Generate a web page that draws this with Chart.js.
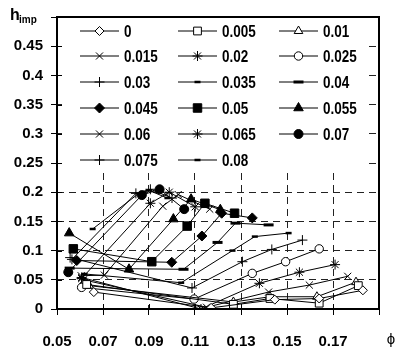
<!DOCTYPE html>
<html>
<head>
<meta charset="utf-8">
<script src="https://cdn.jsdelivr.net/npm/chart.js@4.4.1/dist/chart.umd.min.js"></script>
<style>
html,body{margin:0;padding:0;background:#fff;}
#wrap{position:relative;width:397px;height:349px;}
canvas{display:block;}
</style>
</head>
<body>
<div id="wrap"><canvas id="c" width="397" height="349"></canvas></div>
<script>
// Series labels (parameter values)
const seriesLabels = ['0','0.005','0.01','0.015','0.02','0.025','0.03','0.035','0.04','0.045','0.05','0.055','0.06','0.065','0.07','0.075','0.08'];

// Data: [phi, h_imp]
const s000 = [[0.066,0.029],[0.117,0.002],[0.1447,0.016],[0.164,0.018],[0.183,0.032]];
const s005 = [[0.0629,0.042],[0.1267,0.008],[0.1426,0.018],[0.164,0.010],[0.181,0.040]];
const s010 = [[0.064,0.040],[0.1267,0.012],[0.1426,0.021],[0.163,0.021],[0.180,0.046]];
const s015 = [[0.0615,0.050],[0.115,0.003],[0.142,0.029],[0.1597,0.041],[0.1764,0.056]];
const s020 = [[0.0607,0.054],[0.1126,0.000],[0.138,0.044],[0.1554,0.063],[0.1709,0.076]];
const s025 = [[0.0607,0.037],[0.1096,0.017],[0.1349,0.061],[0.1494,0.081],[0.164,0.103]];
const s030 = [[0.0557,0.088],[0.1087,0.036],[0.1306,0.081],[0.1434,0.102],[0.1567,0.118]];
const s035 = [[0.062,0.060],[0.104,0.045],[0.1263,0.100],[0.136,0.124],[0.1507,0.130]];
const s040 = [[0.0555,0.070],[0.105,0.068],[0.1198,0.114],[0.1276,0.147],[0.142,0.144]];
const s045 = [[0.0586,0.083],[0.0999,0.080],[0.113,0.125],[0.1216,0.164],[0.1349,0.156]];
const s050 = [[0.0571,0.103],[0.0912,0.081],[0.1066,0.142],[0.1143,0.181],[0.1272,0.164]];
const s055 = [[0.0553,0.130],[0.0813,0.068],[0.1006,0.154],[0.1083,0.188],[0.121,0.170]];
const s060 = [[0.0605,0.057],[0.0706,0.058],[0.096,0.176],[0.1027,0.196],[0.1164,0.171]];
const s065 = [[0.0607,0.052],[0.0906,0.181],[0.0988,0.200],[0.1101,0.175]];
const s070 = [[0.0549,0.063],[0.0869,0.195],[0.0946,0.205],[0.1053,0.171]];
const s075 = [[0.0565,0.085],[0.0843,0.198],[0.0906,0.205],[0.1000,0.190]];
const s080 = [[0.0655,0.137],[0.0856,0.198],[0.0900,0.203],[0.098,0.190]];

// Axis ticks
const xTicks = [0.05,0.07,0.09,0.11,0.13,0.15,0.17,0.19];
const xTickLabels = ['0.05','0.07','0.09','0.11','0.13','0.15','0.17',''];
const yTicks = [0,0.05,0.1,0.15,0.2,0.25,0.3,0.35,0.4,0.45,0.5];
const yTickLabels = ['0','0.05','0.1','0.15','0.2','0.25','0.3','0.35','0.4','0.45',''];

const allSeries = [s000,s005,s010,s015,s020,s025,s030,s035,s040,s045,s050,s055,s060,s065,s070,s075,s080];
// marker styles per series
const styles = [
  {ps:'rectRot',r:4.5,fill:false},
  {ps:'rect',r:5.5,fill:false},
  {ps:'triangle',r:5,fill:false},
  {ps:'crossRot',r:5,fill:false},
  {ps:'star',r:5,fill:false},
  {ps:'circle',r:4.2,fill:false},
  {ps:'cross',r:5,fill:false},
  {ps:'line',r:3,fill:false,bw:2.5},
  {ps:'line',r:5,fill:false,bw:3},
  {ps:'rectRot',r:5,fill:true},
  {ps:'rect',r:6,fill:true},
  {ps:'triangle',r:5.5,fill:true},
  {ps:'crossRot',r:5,fill:false},
  {ps:'star',r:5,fill:false},
  {ps:'circle',r:4.5,fill:true},
  {ps:'cross',r:5,fill:false},
  {ps:'line',r:3,fill:false,bw:2.5}
];

const FONT = '"Liberation Sans", Arial, sans-serif';

const datasets = allSeries.map((s,i)=>({
  label: seriesLabels[i],
  data: s.map(p=>({x:p[0],y:p[1]})),
  showLine: true,
  borderColor:'#000',
  borderWidth:1,
  pointStyle: styles[i].ps,
  pointRadius: styles[i].r,
  pointBorderWidth: styles[i].bw || 1,
  pointBorderColor:'#000',
  pointBackgroundColor: styles[i].fill ? '#000' : '#fff',
  tension:0
}));

const frame = {
  id:'frame',
  beforeDatasetsDraw(chart){
    const {ctx} = chart;
    ctx.save();
    // legend box (inside plot area, white background)
    const lx = 62, ly = 17, lw = 305, lh = 152;
    ctx.fillStyle = '#fff';
    ctx.fillRect(lx, ly, lw, lh);
    const colX = [80, 178, 279];
    const rowY = [31, 56, 82, 108, 134, 160];
    ctx.font = 'bold 15px ' + FONT;
    ctx.textBaseline = 'middle';
    seriesLabels.forEach((lab,i)=>{
      const col = i % 3, row = Math.floor(i/3);
      const x0 = colX[col], y0 = rowY[row];
      ctx.strokeStyle = '#000';
      ctx.lineWidth = 1;
      ctx.beginPath();
      ctx.moveTo(x0, y0); ctx.lineTo(x0+39, y0); ctx.stroke();
      const st = styles[i];
      ctx.fillStyle = st.fill ? '#000' : '#fff';
      ctx.lineWidth = st.bw || 1;
      Chart.helpers.drawPoint(ctx, {pointStyle: st.ps, radius: st.r, rotation:0, borderWidth: st.bw || 1}, x0+19.5, y0);
      ctx.fillStyle = '#000';
      ctx.save();
      ctx.translate(x0+44, y0+1);
      ctx.scale(0.9, 1.1);
      ctx.fillText(lab, 0, 0);
      ctx.restore();
    });
    ctx.restore();
  },
  afterDraw(chart){
    const {ctx, chartArea:a, scales} = chart;
    ctx.save();
    ctx.strokeStyle = '#000';
    ctx.lineWidth = 1;
    // inner halves of the crossing tick marks
    ctx.beginPath();
    xTicks.forEach(v=>{
      const px = Math.round(scales.x.getPixelForValue(v))+0.5;
      ctx.moveTo(px, a.bottom); ctx.lineTo(px, a.bottom-5);
    });
    yTicks.forEach(v=>{
      const py = Math.round(scales.y.getPixelForValue(v))+0.5;
      ctx.moveTo(a.left, py); ctx.lineTo(a.left+5, py);
    });
    ctx.stroke();
    // plot frame
    ctx.lineWidth = 2;
    ctx.strokeRect(a.left, a.top, a.right-a.left, a.bottom-a.top);
    // axis titles
    ctx.fillStyle = '#000';
    ctx.textBaseline = 'alphabetic';
    ctx.textAlign = 'left';
    ctx.font = 'bold 16px ' + FONT;
    ctx.fillText('h', 10, 20);
    ctx.font = 'bold 10px ' + FONT;
    ctx.fillText('imp', 19, 23);
    ctx.font = '15px ' + FONT;
    ctx.textAlign = 'center';
    ctx.fillText('ϕ', 391, 344);
    ctx.restore();
  }
};

new Chart(document.getElementById('c'), {
  type:'scatter',
  data:{datasets},
  options:{
    responsive:false,
    animation:false,
    devicePixelRatio:1,
    layout:{padding:{left:0,right:16,top:12,bottom:0}},
    plugins:{legend:{display:false},tooltip:{enabled:false}},
    scales:{
      x:{
        type:'linear', min:0.05, max:0.19,
        afterBuildTicks(s){ s.ticks = xTicks.map(v=>({value:v})); },
        afterFit(s){ s.height = 40; },
        border:{display:false, dash:[7,5]},
        grid:{color:'#222', lineWidth:1, tickLength:6, tickColor:'#000', tickBorderDash:[0,0],
              drawOnChartArea:true},
        ticks:{color:'#000', font:{family:FONT, size:15, weight:'bold'}, padding:18,
               maxRotation:0, autoSkip:false,
               callback:(v,i)=>xTickLabels[i]}
      },
      y:{
        type:'linear', min:0, max:0.5,
        afterBuildTicks(s){ s.ticks = yTicks.map(v=>({value:v})); },
        afterFit(s){ s.width = 57; },
        border:{display:false, dash:[7,5]},
        grid:{color:'#222', lineWidth:1, tickLength:6, tickColor:'#000', tickBorderDash:[0,0]},
        ticks:{color:'#000', font:{family:FONT, size:15, weight:'bold'}, padding:8,
               autoSkip:false,
               callback:(v,i)=>yTickLabels[i]}
      }
    }
  },
  plugins:[frame]
});
</script>
</body>
</html>
